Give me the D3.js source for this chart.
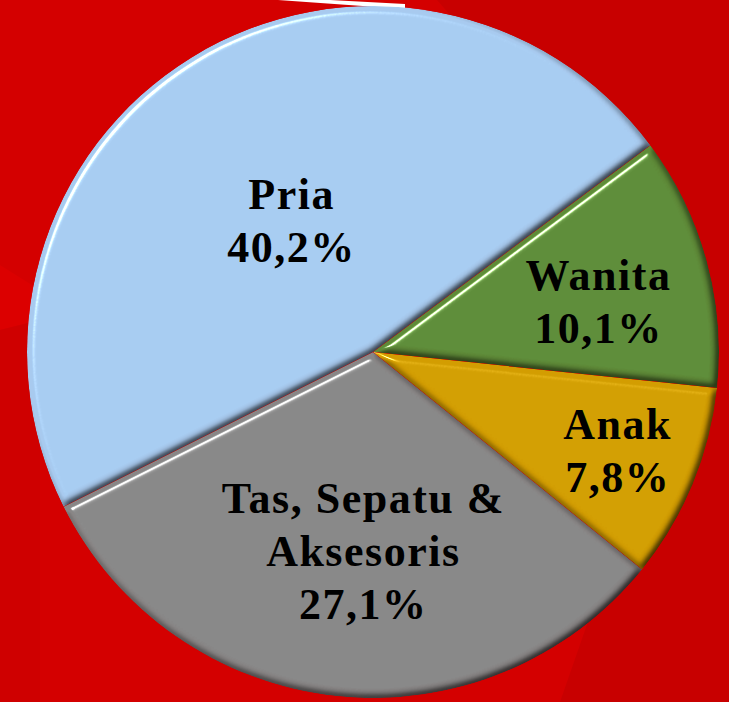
<!DOCTYPE html>
<html><head><meta charset="utf-8">
<script src="https://cdn.jsdelivr.net/npm/d3@7"></script>
<style>html,body{margin:0;padding:0;background:#d40000;overflow:hidden}</style>
</head><body><svg id="chart" width="729" height="702"></svg>
<script>
// ---- data ----
const categories = ["Wanita", "Anak", "Tas, Sepatu & Aksesoris", "Pria"];
const values = [10.1, 7.8, 27.1, 40.2];
const labelLines = [["Wanita"], ["Anak"], ["Tas, Sepatu &", "Aksesoris"], ["Pria"]];
const colors = ["#5f8e3b", "#d3a004", "#898989", "#a8cdf2"];

// ---- layout ----
const W = 729, H = 702;
const cx = 373, cy = 352, R = 346;
const startDeg = 53.3;
const labelRadius = [0.66, 0.78, 0.62, 0.41];
const labelNudgeDeg = [6.3, 2.5, -3.6, -3.4];
const lineGap = 53;

const svg = d3.select("#chart");
const defs = svg.append("defs");

// bevel filter
const f = defs.append("filter").attr("id", "bevel")
  .attr("x", "-5%").attr("y", "-5%").attr("width", "110%").attr("height", "110%")
  .attr("color-interpolation-filters", "sRGB");
f.append("feGaussianBlur").attr("in", "SourceAlpha").attr("stdDeviation", 3.5).attr("result", "blur");
const dl = f.append("feDiffuseLighting").attr("in", "blur").attr("surfaceScale", 4)
  .attr("diffuseConstant", 1.155).attr("lighting-color", "#fff").attr("result", "diff");
dl.append("feDistantLight").attr("azimuth", 225).attr("elevation", 60);
const sl = f.append("feSpecularLighting").attr("in", "blur").attr("surfaceScale", 4)
  .attr("specularConstant", 0.9).attr("specularExponent", 128).attr("lighting-color", "#fff").attr("result", "spec");
sl.append("feDistantLight").attr("azimuth", 225).attr("elevation", 60);
f.append("feComposite").attr("in", "SourceGraphic").attr("in2", "diff").attr("operator", "arithmetic")
  .attr("k1", 1).attr("k2", 0).attr("k3", 0).attr("k4", 0).attr("result", "lit");
f.append("feComposite").attr("in", "spec").attr("in2", "SourceAlpha").attr("operator", "in").attr("result", "specIn");
f.append("feComposite").attr("in", "lit").attr("in2", "specIn").attr("operator", "arithmetic")
  .attr("k1", 0).attr("k2", 1).attr("k3", 1).attr("k4", -0.01).attr("result", "out");
f.append("feComposite").attr("in", "out").attr("in2", "SourceAlpha").attr("operator", "in");

// background decoration
const bg = svg.append("g");
bg.append("rect").attr("width", W).attr("height", H).attr("fill", "#d40000");
bg.append("path").attr("d", `M437,0 L${W},0 L${W},${H} L560,${H} L700,300 Z`).attr("fill", "#c80000");
bg.append("path").attr("d", `M0,265 L40,290 L40,320 L0,330 Z`).attr("fill", "#dc0000");
bg.append("path").attr("d", `M0,330 L40,320 L40,${H} L0,${H} Z`).attr("fill", "#cf0000");
bg.append("path").attr("d", "M278,0 L330,0 L405,4 L405,9 Z").attr("fill", "#ffffff");

// pie
const pie = d3.pie().sort(null).value(d => d)
  .startAngle(startDeg * Math.PI / 180).endAngle((startDeg + 360) * Math.PI / 180);
const arcs = pie(values);
const arc = d3.arc().innerRadius(0).outerRadius(R);

const g = svg.append("g").attr("transform", `translate(${cx},${cy})`);
g.selectAll("path.slice").data(arcs).join("path")
  .attr("class", "slice")
  .attr("d", arc)
  .attr("fill", (d, i) => colors[i])
  .attr("filter", "url(#bevel)");

// labels
const fmt = v => d3.format(".1f")(v).replace(".", ",") + "%";
const lg = g.append("g")
  .attr("font-family", "'Liberation Serif', 'Times New Roman', serif")
  .attr("font-weight", "bold").attr("font-size", 44).attr("letter-spacing", 1.5).attr("fill", "#000")
  .attr("text-anchor", "middle");
arcs.forEach((a, i) => {
  const mid = (a.startAngle + a.endAngle) / 2 + labelNudgeDeg[i] * Math.PI / 180;
  const r = R * labelRadius[i];
  const x = Math.sin(mid) * r, y = -Math.cos(mid) * r;
  const lines = labelLines[i].concat([fmt(values[i])]);
  const n = lines.length;
  const t = lg.append("text");
  lines.forEach((ln, k) => {
    t.append("tspan").attr("x", x).attr("y", y + (k - (n - 1) / 2) * lineGap).text(ln);
  });
});
</script></body></html>
